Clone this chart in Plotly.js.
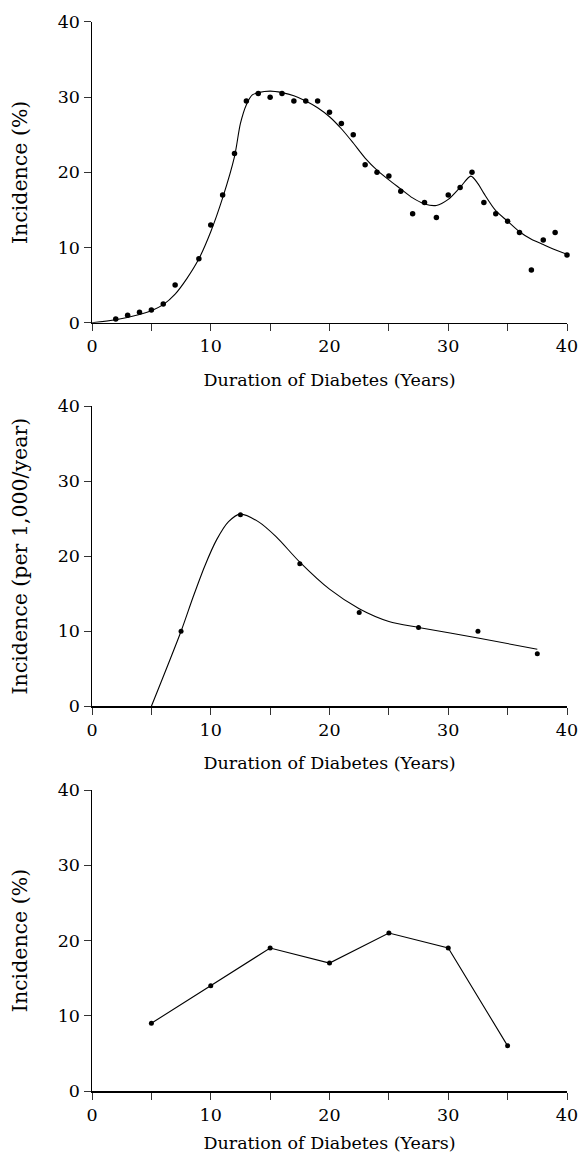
<!DOCTYPE html>
<html>
<head>
<meta charset="utf-8">
<script src="https://cdn.plot.ly/plotly-3.0.1.min.js"></script>
<style>
  html, body { margin: 0; padding: 0; background: #fff; }
  #chart { width: 579px; height: 1153px; }
</style>
</head>
<body>
<div id="chart"></div>
<script>
// Panel 1: yearly incidence (%) with fitted curve
const topYears = [2, 3, 4, 5, 6, 7, 9, 10, 11, 12, 13, 14, 15, 16, 17, 18, 19, 20,
  21, 22, 23, 24, 25, 26, 27, 28, 29, 30, 31, 32, 33, 34, 35, 36, 37, 38, 39, 40];
const topIncidence = [0.5, 1.0, 1.4, 1.7, 2.5, 5.0, 8.5, 13.0, 17.0, 22.5, 29.5, 30.5, 30.0, 30.5, 29.5, 29.5, 29.5, 28.0,
  26.5, 25.0, 21.0, 20.0, 19.5, 17.5, 14.5, 16.0, 14.0, 17.0, 18.0, 20.0, 16.0, 14.5, 13.5, 12.0, 7.0, 11.0, 12.0, 9.0];
const topFitYears = [0, 2, 4, 5, 6, 7, 8, 9, 10, 11, 12, 12.5, 13, 13.5, 14, 15, 16, 17, 18, 19, 20,
  21, 22, 23, 24, 25, 26, 27, 28, 29, 30, 31, 31.9, 32.5, 33, 34, 35, 36, 37, 38, 39, 40];
const topFitIncidence = [0, 0.4, 1.1, 1.6, 2.4, 3.8, 5.9, 8.5, 12.1, 16.6, 22.1, 26.5, 29.0, 30.3, 30.6, 30.8, 30.6, 30.2, 29.5, 28.6, 27.4,
  25.8, 23.9, 21.9, 20.3, 19.0, 17.8, 16.6, 15.8, 15.6, 16.4, 18.0, 19.5, 18.5, 17.2, 14.9, 13.5, 12.1, 11.1, 10.4, 9.7, 9.1];

// Panel 2: incidence per 1,000/year at interval midpoints with fitted curve
const midYears = [7.5, 12.5, 17.5, 22.5, 27.5, 32.5, 37.5];
const midIncidence = [10.0, 25.5, 19.0, 12.5, 10.5, 10.0, 7.0];
const midFitYears = [5, 7.5, 8.5, 9.5, 10.5, 11.5, 12.5, 14, 15.5, 17.5, 20, 22.5, 25, 27.5, 32.5, 37.5];
const midFitIncidence = [0, 10.0, 14.5, 18.7, 22.2, 24.6, 25.6, 24.6, 22.6, 19.2, 15.6, 13.0, 11.3, 10.5, 9.1, 7.6];

// Panel 3: incidence (%) by 5-year duration
const lowYears = [5, 10, 15, 20, 25, 30, 35];
const lowIncidence = [9, 14, 19, 17, 21, 19, 6];

// Axis ticks
const xTickVals = [0, 5, 10, 15, 20, 25, 30, 35, 40];
const xTickText = ['0', '', '10', '', '20', '', '30', '', '40'];
const yTickVals = [0, 10, 20, 30, 40];
const xTitle = 'Duration of Diabetes (Years)';
const yTitles = ['Incidence (%)', 'Incidence (per 1,000/year)', 'Incidence (%)'];

const SERIF = 'DejaVu Serif, Liberation Serif, serif';
const INK = '#000';

function xAxisSpec(anchor) {
  return {
    anchor: anchor, domain: [0, 1], range: [0, 40], fixedrange: true,
    showline: true, linecolor: INK, linewidth: 1.5, mirror: false,
    showgrid: false, zeroline: false,
    ticks: 'outside', ticklen: 7, tickwidth: 1, tickcolor: '#333',
    tickmode: 'array', tickvals: xTickVals, ticktext: xTickText,
    tickfont: { family: SERIF, size: 17.5, color: INK },
    title: { text: xTitle, font: { family: SERIF, size: 17.5, color: INK } }
  };
}

function yAxisSpec(anchor, domain, titleText) {
  return {
    anchor: anchor, domain: domain, range: [0, 40], fixedrange: true,
    showline: true, linecolor: INK, linewidth: 1.5, mirror: false,
    showgrid: false, zeroline: false,
    ticks: 'outside', ticklen: 7, tickwidth: 1, tickcolor: '#333',
    tickmode: 'array', tickvals: yTickVals,
    tickfont: { family: SERIF, size: 17.5, color: INK },
    automargin: 'left',
    title: { text: titleText, standoff: 24, font: { family: SERIF, size: 20.5, color: INK } }
  };
}

const lineStyle = { color: INK, width: 1.1 };

const traces = [
  { x: topFitYears, y: topFitIncidence, xaxis: 'x', yaxis: 'y', mode: 'lines',
    line: Object.assign({ shape: 'spline', smoothing: 0.8 }, lineStyle), hoverinfo: 'skip' },
  { x: topYears, y: topIncidence, xaxis: 'x', yaxis: 'y', mode: 'markers', cliponaxis: false,
    marker: { color: INK, size: 5.5 } },

  { x: midFitYears, y: midFitIncidence, xaxis: 'x2', yaxis: 'y2', mode: 'lines',
    line: Object.assign({ shape: 'spline', smoothing: 0.8 }, lineStyle), hoverinfo: 'skip' },
  { x: midYears, y: midIncidence, xaxis: 'x2', yaxis: 'y2', mode: 'markers', cliponaxis: false,
    marker: { color: INK, size: 5 } },

  { x: lowYears, y: lowIncidence, xaxis: 'x3', yaxis: 'y3', mode: 'lines+markers', cliponaxis: false,
    line: lineStyle, marker: { color: INK, size: 5 } }
];

const layout = {
  width: 579, height: 1153,
  margin: { l: 92, r: 12, t: 0, b: 62 },
  paper_bgcolor: '#fff', plot_bgcolor: '#fff',
  showlegend: false,
  font: { family: SERIF, color: INK },
  xaxis: xAxisSpec('y'),
  yaxis: yAxisSpec('x', [0.70422, 0.97984], yTitles[0]),
  xaxis2: xAxisSpec('y2'),
  yaxis2: yAxisSpec('x2', [0.35261, 0.62786], yTitles[1]),
  xaxis3: xAxisSpec('y3'),
  yaxis3: yAxisSpec('x3', [0, 0.27589], yTitles[2])
};

Plotly.newPlot('chart', traces, layout, { staticPlot: true, displayModeBar: false });
</script>
</body>
</html>
